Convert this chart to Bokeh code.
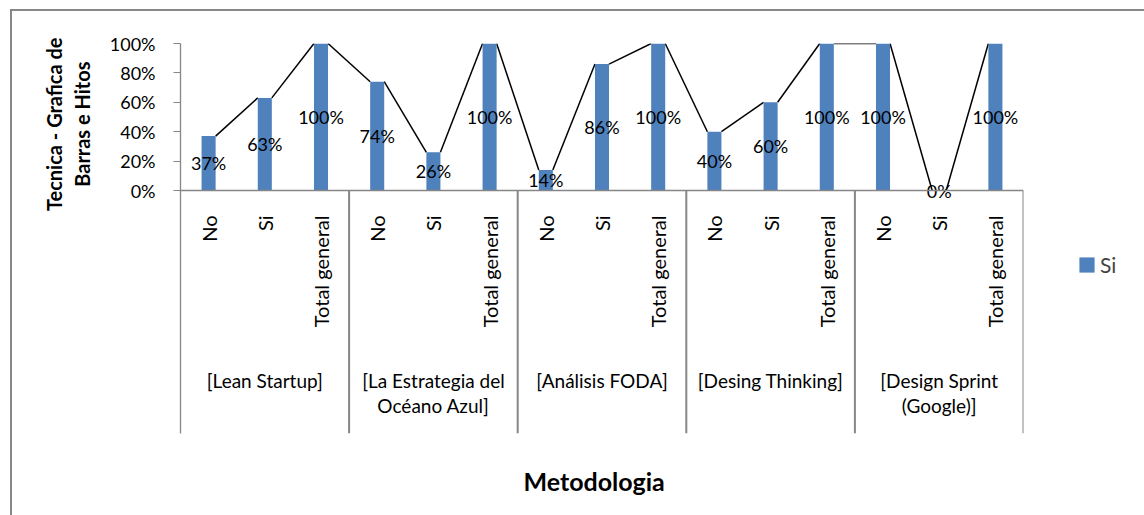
from math import pi

from bokeh.core.properties import value
from bokeh.embed import file_html
from bokeh.models import (ColumnDataSource, FactorRange, FixedTicker, Legend,
                          LegendItem, LinearAxis, NumeralTickFormatter, Range1d,
                          Span, Title)
from bokeh.plotting import figure
from bokeh.resources import INLINE
from bokeh.transform import dodge

# ---- data -------------------------------------------------------------
groups = [
    "[Lean Startup]",
    "[La Estrategia del\nOcéano Azul]",
    "[Análisis FODA]",
    "[Desing Thinking]",
    "[Design Sprint\n(Google)]",
]
answers = ["No", "Si", "Total general"]
lean_startup = [0.37, 0.63, 1.00]
oceano_azul = [0.74, 0.26, 1.00]
analisis_foda = [0.14, 0.86, 1.00]
desing_thinking = [0.40, 0.60, 1.00]
design_sprint = [1.00, 0.00, 1.00]
series_name = "Si"
y_ticks = [0.0, 0.2, 0.4, 0.6, 0.8, 1.0]
y_title_lines = ["Tecnica - Grafica de", "Barras e Hitos"]
x_title = "Metodologia"

# ---- styling ------------------------------------------------------------
FONT = "Lato"
BAR = "#4F81BD"
GRAY = "#868686"
Y_BOTTOM = 1 - 390 / 147          # frame extends below zero to hold the category table
LABEL_TOP = -0.17                 # top of the rotated answer labels
GROUP_TOP = -1.215                # top of the group labels

shares = [lean_startup, oceano_azul, analisis_foda, desing_thinking, design_sprint]
factors = [(g, a) for g in groups for a in answers]
tops = [v for s in shares for v in s]

bars_src = ColumnDataSource(dict(
    x=factors,
    top=tops,
    mid=[v / 2 for v in tops],
    pct=[f"{round(v * 100)}%" for v in tops],
    answer=[a for _, a in factors],
))
lines_src = ColumnDataSource(dict(
    x0=factors[:-1], y0=tops[:-1],
    x1=factors[1:], y1=tops[1:],
))
sep_src = ColumnDataSource(dict(x=[(g, answers[-1]) for g in groups]))
group_src = ColumnDataSource(dict(x=groups, text=groups))

x_range = FactorRange(*factors, factor_padding=0, group_padding=0,
                      subgroup_padding=0, range_padding=0)

p = figure(
    x_range=x_range, y_range=Range1d(Y_BOTTOM, 1.0),
    frame_width=843, frame_height=390,
    min_border_left=168, min_border_right=118, min_border_top=32, min_border_bottom=82,
    toolbar_location=None, output_backend="svg",
    x_axis_location=None,
)
p.margin = (9, 0, 0, 10)
p.styles = {
    "border-top": "2px solid #878787",
    "border-left": "2px solid #878787",
    "border-right": "1px solid #D9D9D9",
}
p.outline_line_color = None
p.background_fill_color = "white"
p.border_fill_color = "white"
p.xgrid.visible = False
p.ygrid.visible = False

# y axis
ax = p.yaxis[0]
ax.ticker = FixedTicker(ticks=y_ticks)
ax.formatter = NumeralTickFormatter(format="0%")
ax.axis_line_color = GRAY
ax.axis_line_width = 1.3
ax.major_tick_line_color = GRAY
ax.major_tick_out = 7
ax.major_tick_in = 0
ax.minor_tick_line_color = None
ax.major_label_standoff = 18
ax.major_label_text_font = FONT
ax.major_label_text_font_size = "18px"
ax.major_label_text_color = "black"

# blank axis used as a gap between the tick labels and the axis title
p.add_layout(LinearAxis(ticker=FixedTicker(ticks=[0.5]), major_tick_out=11,
                        major_tick_in=0, major_tick_line_color="white",
                        minor_tick_line_color=None, axis_line_color=None,
                        major_label_standoff=0, major_label_overrides={0.5: ""},
                        major_label_text_font_size="1px"), "left")

# base line of the bars and group separators of the category table
p.add_layout(Span(location=0, dimension="width", line_color=GRAY, line_width=1.3))
p.segment(x0=dodge("x", 0.5, range=x_range), y0=0,
          x1=dodge("x", 0.5, range=x_range), y1=Y_BOTTOM,
          source=sep_src, line_color=GRAY, line_width=2)

# series lines joining the bar tops
p.segment(x0=dodge("x0", 0.125, range=x_range), y0="y0",
          x1=dodge("x1", -0.125, range=x_range), y1="y1",
          source=lines_src, line_color="black", line_width=1.5)

bars = p.vbar(x="x", top="top", width=0.25, source=bars_src,
              fill_color=BAR, line_color=None)

# value labels
p.text(x="x", y="mid", text="pct", source=bars_src,
       text_align="center", text_baseline="middle",
       text_font=value(FONT), text_font_size="18px", text_color="black")

# answer labels (rotated) and group labels
p.text(x="x", y=LABEL_TOP, text="answer", source=bars_src, angle=pi / 2,
       text_align="right", text_baseline="middle",
       text_font=value(FONT), text_font_size="20px", text_color="black")
p.text(x="x", y=GROUP_TOP, text="text", source=group_src,
       text_align="center", text_baseline="top", text_line_height=1.1,
       text_font=value(FONT), text_font_size="19px", text_color="black")

# axis titles
for line, offset in zip(reversed(y_title_lines), [18, -6]):
    p.add_layout(Title(text=line, align="right", offset=offset, standoff=2,
                       vertical_align="middle",
                       text_font=FONT, text_font_style="bold",
                       text_font_size="20px", text_color="black"), "left")
p.add_layout(Title(text=x_title, align="left", offset=343, text_font=FONT,
                   text_font_style="bold", text_font_size="25px",
                   text_color="black", standoff=60), "below")

legend = Legend(items=[LegendItem(label=series_name, renderers=[bars])],
                location=(54, 156), orientation="vertical",
                glyph_width=19, glyph_height=19, label_standoff=4,
                label_text_font=FONT, label_text_font_size="21px",
                padding=0, margin=0, spacing=0,
                border_line_color=None, background_fill_alpha=0)
p.add_layout(legend, "right")

open("out.html", "w").write(file_html(p, INLINE))
